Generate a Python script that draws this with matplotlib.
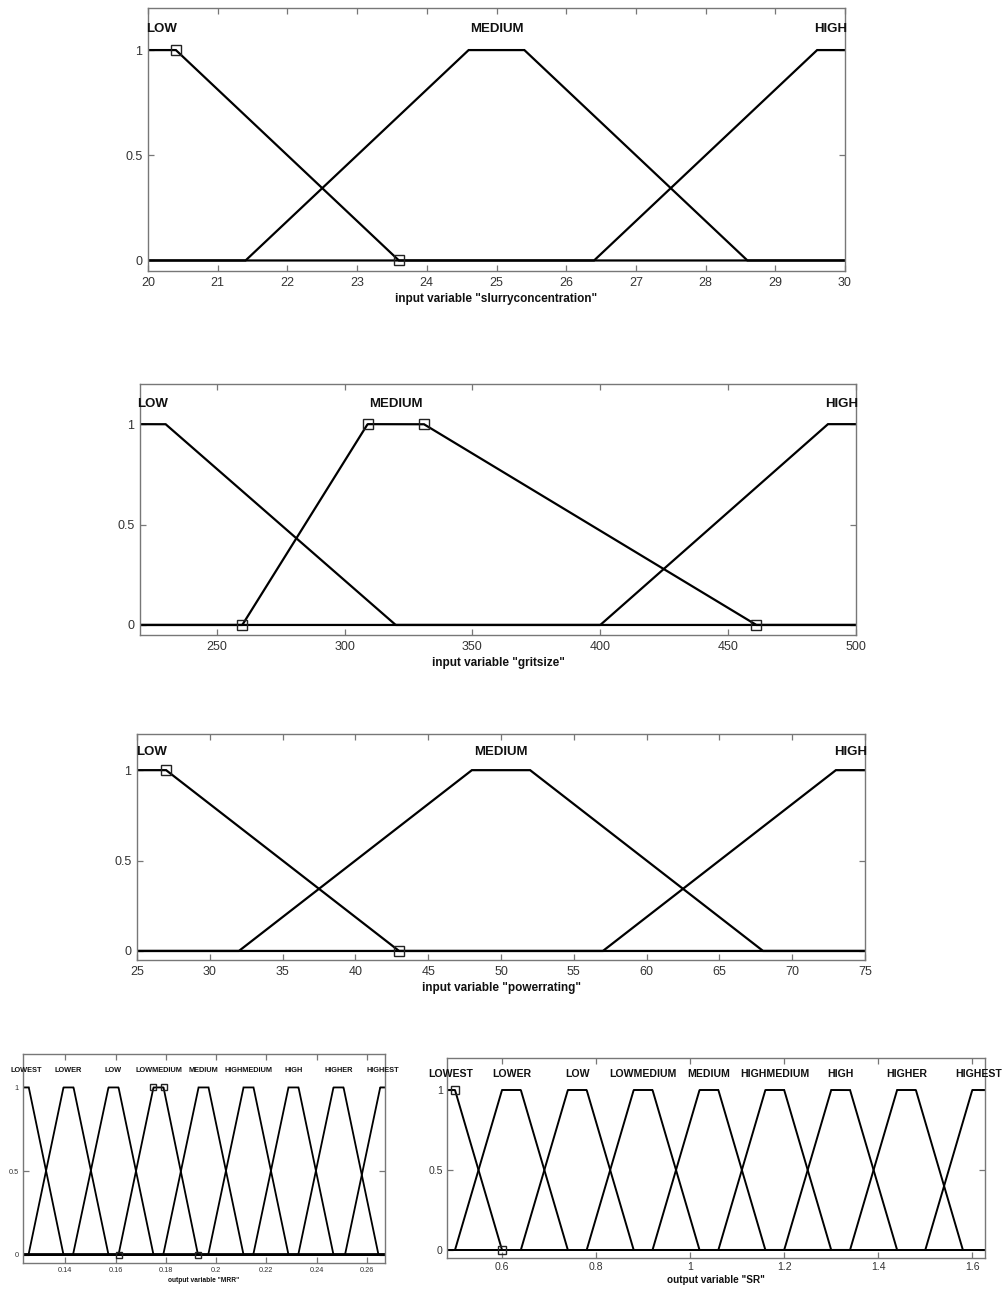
"""
Fonctions d'appartenance (entrées / sorties du système flou)
"""
import numpy as np
import matplotlib
matplotlib.use('Agg')
import matplotlib.pyplot as plt
from matplotlib import font_manager
from matplotlib.ticker import FuncFormatter

W, H = 1006, 1292

# --- données : trapèzes [a, b, c, d] ---
slurry_range = [20, 30]
slurry_names = ['LOW', 'MEDIUM', 'HIGH']
slurry_params = [[16.8, 19.6, 20.4, 23.6],
                 [21.4, 24.6, 25.4, 28.6],
                 [26.4, 29.6, 30.4, 33.6]]
slurry_mark_x = [20.4, 23.6]
slurry_mark_y = [1, 0]
slurry_ticks = [20, 21, 22, 23, 24, 25, 26, 27, 28, 29, 30]

grit_range = [220, 500]
grit_names = ['LOW', 'MEDIUM', 'HIGH']
grit_params = [[150, 210, 230, 320],
               [260, 309, 331, 461],
               [400, 489, 510, 600]]
grit_mark_x = [260, 309, 331, 461]
grit_mark_y = [0, 1, 1, 0]
grit_ticks = [250, 300, 350, 400, 450, 500]

power_range = [25, 75]
power_names = ['LOW', 'MEDIUM', 'HIGH']
power_params = [[11, 23, 27, 43],
                [32, 48, 52, 68],
                [57, 73, 77, 93]]
power_mark_x = [27, 43]
power_mark_y = [1, 0]
power_ticks = [25, 30, 35, 40, 45, 50, 55, 60, 65, 70, 75]

out_names = ['LOWEST', 'LOWER', 'LOW', 'LOWMEDIUM', 'MEDIUM',
             'HIGHMEDIUM', 'HIGH', 'HIGHER', 'HIGHEST']

mrr_range = [0.1232, 0.2672]
mrr_params = [[0.1080, 0.1215, 0.1255, 0.1393],
              [0.1254, 0.1393, 0.1433, 0.1572],
              [0.1431, 0.1572, 0.1612, 0.1751],
              [0.1612, 0.1751, 0.1791, 0.1928],
              [0.1790, 0.1930, 0.1970, 0.2109],
              [0.1969, 0.2109, 0.2149, 0.2288],
              [0.2148, 0.2288, 0.2328, 0.2467],
              [0.2327, 0.2467, 0.2507, 0.2646],
              [0.2513, 0.2653, 0.2693, 0.2832]]
mrr_mark_x = [0.1612, 0.1751, 0.1791, 0.1928]
mrr_mark_y = [0, 1, 1, 0]
mrr_ticks = [0.14, 0.16, 0.18, 0.2, 0.22, 0.24, 0.26]

sr_range = [0.483, 1.627]
sr_params = [[0.36, 0.46, 0.50, 0.60],
             [0.50, 0.60, 0.64, 0.74],
             [0.64, 0.74, 0.78, 0.88],
             [0.78, 0.88, 0.92, 1.02],
             [0.92, 1.02, 1.06, 1.16],
             [1.06, 1.16, 1.20, 1.30],
             [1.20, 1.30, 1.34, 1.44],
             [1.34, 1.44, 1.48, 1.58],
             [1.50, 1.60, 1.64, 1.74]]
sr_mark_x = [0.50, 0.60]
sr_mark_y = [1, 0]
sr_ticks = [0.6, 0.8, 1, 1.2, 1.4, 1.6]

# police étroite pour le petit panneau MRR si disponible
_names = {f.name for f in font_manager.fontManager.ttflist}
NARROW = 'Liberation Sans Narrow' if 'Liberation Sans Narrow' in _names else 'Liberation Sans'
NARROW_SCALE = 1.0 if NARROW == 'Liberation Sans Narrow' else 0.82

plt.rcParams['font.family'] = ['Liberation Sans', 'DejaVu Sans']

fig = plt.figure(figsize=(W / 100, H / 100), dpi=100)


def draw_panel(box, xr, names, params, mark_x, mark_y, ticks, xlabel,
               fs_name, fs_tick, fs_xlabel, family='Liberation Sans',
               lw=1.6, ms=7, pad=4, labelpad=3):
    l, t, r, b = box
    ax = fig.add_axes([l / W, 1 - b / H, (r - l) / W, (b - t) / H])
    x = np.linspace(xr[0], xr[1], 1201)
    for name, p in zip(names, params):
        y = np.interp(x, p, [0, 1, 1, 0], left=0, right=0)
        ax.plot(x, y, color='black', lw=lw, solid_joinstyle='miter')
        # étiquette au centre du plateau visible
        cx = (max(p[1], xr[0]) + min(p[2], xr[1])) / 2
        ax.text(cx, 1.1, name, ha='center', va='center', fontsize=fs_name,
                fontweight='bold', family=family, color='#111111')
    ax.plot(mark_x, mark_y, 's', ms=ms, mfc='none', mec='#222222', mew=1.0)
    ax.set_xlim(xr)
    ax.set_ylim(-0.05, 1.2)
    ax.set_xticks(ticks)
    ax.set_yticks([0, 0.5, 1])
    fmt = FuncFormatter(lambda v, _: '%g' % round(v, 4))
    ax.xaxis.set_major_formatter(fmt)
    ax.yaxis.set_major_formatter(fmt)
    ax.tick_params(direction='in', top=True, right=True, length=4,
                   width=0.9, color='#777777', labelcolor='#333333',
                   labelsize=fs_tick, pad=pad)
    for lab in ax.get_xticklabels() + ax.get_yticklabels():
        lab.set_family(family)
    for s in ax.spines.values():
        s.set_color('#777777')
        s.set_linewidth(1.0)
    ax.set_xlabel(xlabel, fontsize=fs_xlabel, fontweight='bold',
                  family=family, color='#111111', labelpad=labelpad)
    return ax


draw_panel((148, 8, 845, 271), slurry_range, slurry_names, slurry_params,
           slurry_mark_x, slurry_mark_y, slurry_ticks,
           'input variable "slurryconcentration"', 9.5, 9, 8.5)
draw_panel((140, 384, 856, 635), grit_range, grit_names, grit_params,
           grit_mark_x, grit_mark_y, grit_ticks,
           'input variable "gritsize"', 9.5, 9, 8.5)
draw_panel((137, 734, 865, 960), power_range, power_names, power_params,
           power_mark_x, power_mark_y, power_ticks,
           'input variable "powerrating"', 9.5, 9, 8.5)
draw_panel((23, 1054, 385, 1263), mrr_range, out_names, mrr_params,
           mrr_mark_x, mrr_mark_y, mrr_ticks,
           'output variable "MRR"', 6.5 * NARROW_SCALE, 6.5 * NARROW_SCALE,
           5.8 * NARROW_SCALE, family=NARROW, lw=1.3, ms=5, pad=3, labelpad=2)
draw_panel((447, 1058, 985, 1258), sr_range, out_names, sr_params,
           sr_mark_x, sr_mark_y, sr_ticks,
           'output variable "SR"', 7.6, 7.6, 7.2, lw=1.4, ms=6, pad=3,
           labelpad=2)

fig.savefig('out.png', dpi=100)
